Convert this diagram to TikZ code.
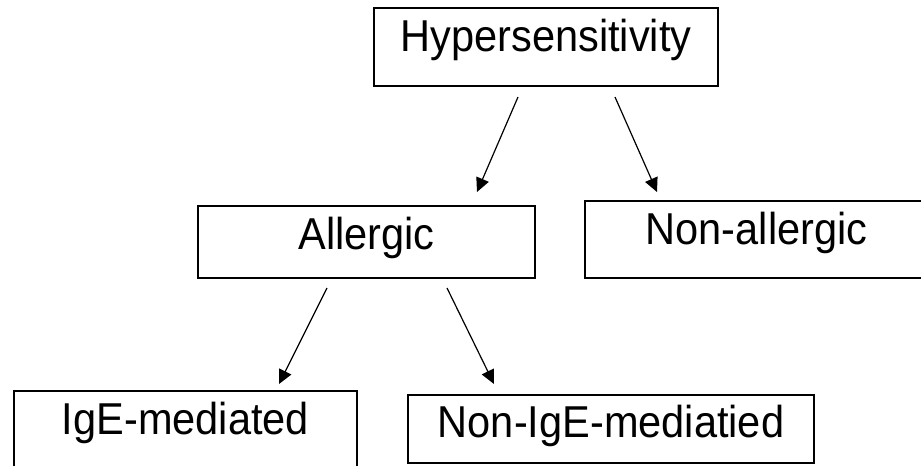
\documentclass[tikz,border=0pt]{standalone}
\usepackage{fontspec}
\setmainfont{Liberation Sans}[FakeStretch=0.93]
\usetikzlibrary{arrows.meta}

\begin{document}
\begin{tikzpicture}[x=0.75pt,y=-0.75pt,>={Triangle[length=10.5pt,width=10pt]}]

  \tikzstyle{box}=[rectangle,draw=black,line width=1.5pt,
    inner xsep=0pt,inner ysep=0pt,outer sep=0pt,anchor=north,
    text height=32.25pt,font=\fontsize{33.5}{40}\selectfont]

  \tikzstyle{link}=[->,line width=0.9pt]

  \useasboundingbox (0,0) rectangle (921,465);
  \clip (0,0) rectangle (921,465);

  \node  (hyp)  at (546,8)     [box,minimum width=258pt,text depth=26.25pt]
         {Hypersensitivity};

  \node  (all)  at (366.5,206) [box,minimum width=252.75pt,text depth=21.75pt]
         {Allergic};

  \node  (nal)  at (756.5,201) [box,minimum width=257.25pt,text depth=25.5pt]
         {Non-allergic};

  \node  (ige)  at (185.5,391) [box,minimum width=257.25pt,text depth=25.5pt]
         {IgE-mediated};

  \node  (nige) at (611,394.5) [box,minimum width=304.5pt,text depth=18.75pt]
         {Non-IgE-mediatied};

  \path ([shift={(-28,11)}]hyp.south)  edge [link] ([shift={(110.5,-14)}]all.north)
        ([shift={(69,11)}]hyp.south)   edge [link] ([shift={(-99.5,-9)}]nal.north)

        ([shift={(-39.5,10)}]all.south) edge [link] ([shift={(93.5,-7)}]ige.north)
        ([shift={(80.5,10)}]all.south)  edge [link] ([shift={(-117,-10.5)}]nige.north);

\end{tikzpicture}
\end{document}
